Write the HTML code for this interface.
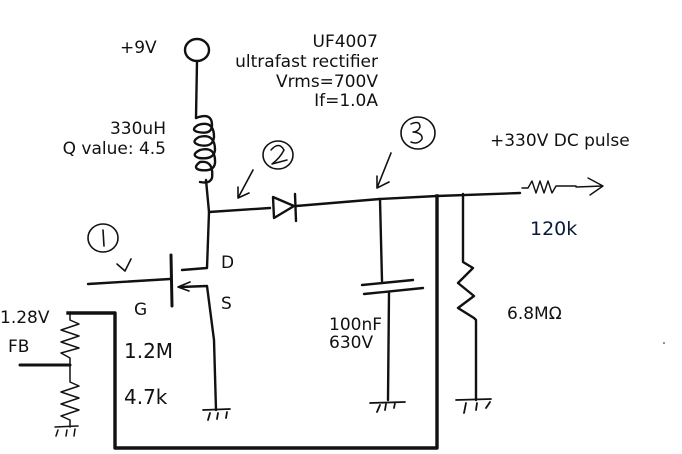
<!DOCTYPE html>
<html><head><meta charset="utf-8"><style>
html,body{margin:0;padding:0;background:#fff;width:682px;height:454px;overflow:hidden}
svg{display:block}
text{font-family:"DejaVu Sans","Liberation Sans",sans-serif;font-size:17px;fill:#111}
</style></head><body>
<svg width="682" height="454" viewBox="0 0 682 454" xmlns="http://www.w3.org/2000/svg">
<g fill="none" stroke="#111" stroke-width="2.4" stroke-linecap="round" stroke-linejoin="round">
<ellipse cx="197" cy="50" rx="12" ry="11"/>
<path d="M197 61 L196 118"/>
<path d="M196 118 Q212 112 212 125 Q212 135 198 132 Q190 130 198 125 Q214 120 214 137 Q213 148 199 145 Q190 142 199 137 Q215 133 215 150 Q214 160 199 158 Q190 155 200 150 Q216 146 215 163 Q214 172 200 170 Q192 168 200 162 Q214 160 212 178 Q210 184 200 182"/>
<path d="M206 180 L209 212 L207 268 L182 270"/>
<path d="M209 212 L270 208"/>
<path d="M273 197 L294 206 L274 218 Z"/>
<path d="M295 194 L296 221"/>
<path d="M296 206 L380 199 L437 196 L520 193"/>
<g stroke-width="1.4"><path d="M522 188 L528 188 L532 181 L536 193 L540 181 L544 193 L548 181 L552 193 L556 186 L576 186"/>
<path d="M576 187 L603 186 M588 178 L603 186 L590 195"/></g>
<path d="M380 199 L382 281"/>
<path d="M362 285 L413 280"/>
<path d="M364 294 L423 288"/>
<path d="M389 292 L388 400"/>
<path d="M370 403 L405 402 M377 412 L380 405 M385 410 L386 404 M394 408 L395 403" stroke-width="1.8"/>
<path d="M437 196 L437 448 L115 448 L115 313 L68 313" stroke-width="3.4" stroke-linecap="square"/>
<path d="M463 194 L463 262 L473 268 L458 283 L474 296 L458 308 L474 318 L476 320 L476 400"/>
<path d="M456 400 L491 399 M464 413 L466 403 M476 410 L477 403 M486 408 L490 402" stroke-width="1.8"/>
<path d="M88 284 L170 279"/>
<path d="M171 255 L172 306" stroke-width="3"/>
<path d="M180 287 L207 286 L214 340 L216 410"/>
<path d="M178 287 L190 282 M178 287 L189 291" stroke-width="1.6"/>
<path d="M203 410 L230 409 M208 420 L210 413 M217 419 L218 413 M226 418 L227 412" stroke-width="1.8"/>
<g stroke-width="1.5"><path d="M70 313 L70 320 L79 324 L61 330 L79 336 L61 342 L79 348 L61 353 L70 358 L70 382 L79 386 L61 392 L79 398 L61 404 L79 410 L61 416 L70 420 L70 427"/>
<path d="M55 427 L78 426 M56 436 L58 430 M66 436 L67 430 M74 436 L75 429"/></g>
<path d="M20 365 L70 365" stroke-width="3"/>
<ellipse cx="103" cy="238" rx="15" ry="14" stroke-width="1.6"/>
<path d="M103 230 L104 246" stroke-width="1.6"/>
<path d="M131 259 L125 271 M117 264 L125 271" stroke-width="1.6"/>
<ellipse cx="278" cy="155" rx="15" ry="14" stroke-width="1.6"/>
<path d="M271 150 Q279 141 284 150 Q280 158 272 164 L287 160" stroke-width="1.5"/>
<path d="M253 170 L238 198 M238 187 L238 198 L249 193" stroke-width="1.6"/>
<ellipse cx="418" cy="133" rx="17" ry="16" stroke-width="1.6"/>
<path d="M411 124 Q420 120 420 127 Q418 132 413 132 Q423 133 422 139 Q418 145 411 142" stroke-width="1.5"/>
<path d="M391 153 L377 188 M377 176 L377 188 L389 182" stroke-width="1.6"/>
</g>
<g>
<text x="120" y="53">+9V</text>
<text x="378" y="47" text-anchor="end">UF4007</text>
<text x="378" y="67" text-anchor="end">ultrafast rectifier</text>
<text x="378" y="87" text-anchor="end">Vrms=700V</text>
<text x="378" y="106" text-anchor="end">If=1.0A</text>
<text x="166" y="134" text-anchor="end">330uH</text>
<text x="166" y="154" text-anchor="end">Q value: 4.5</text>
<text x="490" y="146">+330V DC pulse</text>
<text x="530" y="235" style="font-size:19px;fill:#0a1a3a">120k</text>
<text x="221" y="268">D</text>
<text x="221" y="309">S</text>
<text x="134" y="315">G</text>
<text x="0" y="323">1.28V</text>
<text x="8" y="352">FB</text>
<text x="124" y="358" style="font-size:20px">1.2M</text>
<text x="124" y="404" style="font-size:20px">4.7k</text>
<text x="329" y="330">100nF</text>
<text x="329" y="348">630V</text>
<text x="507" y="319">6.8MΩ</text>
</g>
<circle cx="664" cy="343" r="0.8" fill="#111"/>
</svg>
</body></html>
